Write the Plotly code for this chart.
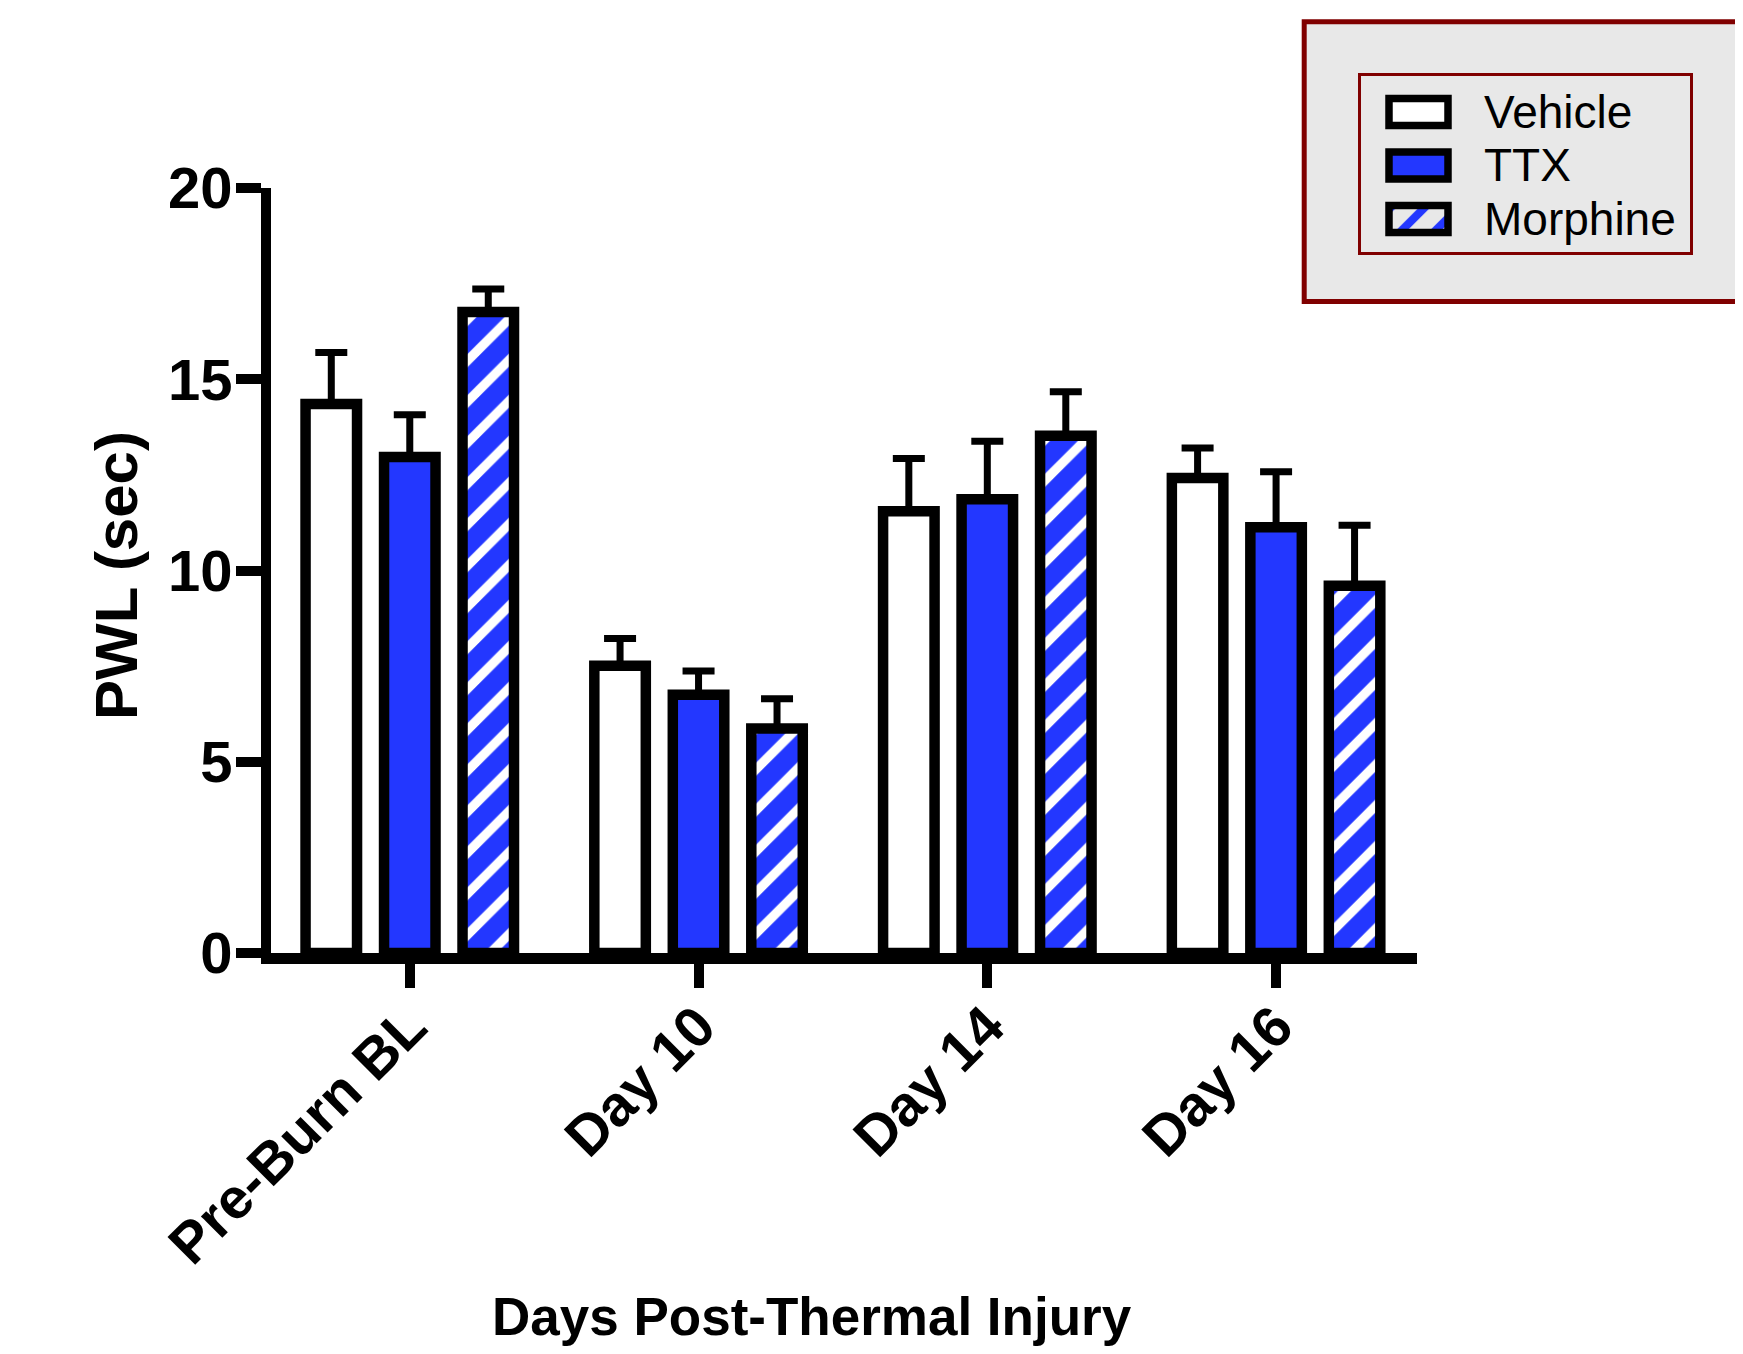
import plotly.graph_objects as go

# ---------------- data ----------------
categories = ["Pre-Burn BL", "Day 10", "Day 14", "Day 16"]
series_names = ["Vehicle", "TTX", "Morphine"]
vehicle_mean = [14.35, 7.51, 11.55, 12.42]
vehicle_sem = [1.35, 0.71, 1.38, 0.78]
ttx_mean = [12.97, 6.75, 11.86, 11.13]
ttx_sem = [1.10, 0.62, 1.52, 1.45]
morphine_mean = [16.76, 5.87, 13.52, 9.60]
morphine_sem = [0.60, 0.78, 1.15, 1.58]
y_ticks = [0, 5, 10, 15, 20]

# ---------------- style ----------------
W, H = 1743, 1354
OFF = 8  # page body margin offset
BLUE = "#2337FF"
DARKRED = "#800000"
FONT = "Liberation Sans, Arial, sans-serif"


def px(x):
    return (x - OFF) / W


def py(y):
    return 1 - (y - OFF) / H


fig = go.Figure()

means = [vehicle_mean, ttx_mean, morphine_mean]
sems = [vehicle_sem, ttx_sem, morphine_sem]
fills = ["white", BLUE, BLUE]
shapes_pat = ["", "", "/"]

for name, m, s, fc, shp in zip(series_names, means, sems, fills, shapes_pat):
    marker = dict(color=fc, line=dict(color="black", width=10.5))
    if shp:
        marker["pattern"] = dict(shape=shp, bgcolor=BLUE, fgcolor="white",
                                 size=29, solidity=0.32, fillmode="replace")
    fig.add_trace(go.Bar(
        name=name, x=categories, y=m, marker=marker,
        error_y=dict(type="data", array=s, arrayminus=[0] * len(s), symmetric=False,
                     color="black", thickness=7, width=16),
        showlegend=False, xaxis="x", yaxis="y",
    ))

# legend swatches drawn as bars on a small helper axis
fig.add_trace(go.Bar(
    x=[1, 1, 1], y=[0, 1, 2], base=0, orientation="h", width=0.505,
    marker=dict(color=fills, line=dict(color="black", width=7.5),
                pattern=dict(shape=shapes_pat, bgcolor=[BLUE, BLUE, BLUE],
                             fgcolor="white", size=24, solidity=0.34, fillmode="replace")),
    xaxis="x2", yaxis="y2", showlegend=False, hoverinfo="skip",
))

annotations = []
for i, name in enumerate(series_names):
    annotations.append(dict(
        text=name, x=px(1482), y=py(112 + 53.5 * i), xref="paper", yref="paper",
        xanchor="left", yanchor="middle", showarrow=False,
        font=dict(family=FONT, size=46, color="black"),
    ))
annotations.append(dict(
    text="PWL (sec)", x=px(116), y=py(576), xref="paper", yref="paper",
    textangle=-90, xanchor="center", yanchor="middle", showarrow=False,
    font=dict(family=FONT, size=60, color="black", weight="bold"),
))
annotations.append(dict(
    text="Days Post-Thermal Injury", x=px(812), y=py(1316), xref="paper", yref="paper",
    xanchor="center", yanchor="middle", showarrow=False,
    font=dict(family=FONT, size=53, color="black", weight="bold"),
))

shapes = [
    dict(type="rect", xref="paper", yref="paper", layer="below",
         x0=px(1304.2), x1=px(1738.2), y0=py(301.5), y1=py(21.8),
         line=dict(color=DARKRED, width=5), fillcolor="#E8E8E8"),
    dict(type="rect", xref="paper", yref="paper", layer="below",
         x0=px(1359.5), x1=px(1691.5), y0=py(253.5), y1=py(74.5),
         line=dict(color=DARKRED, width=3), fillcolor="#E8E8E8"),
]

fig.update_layout(
    width=W, height=H,
    margin=dict(l=0, r=0, t=0, b=0),
    paper_bgcolor="white", plot_bgcolor="rgba(0,0,0,0)",
    barmode="group", bargap=0.1846, bargroupgap=0.344,
    font=dict(family=FONT, color="black"),
    showlegend=False,
    annotations=annotations, shapes=shapes,
    xaxis=dict(
        domain=[px(271), px(1417)], range=[-0.4806, 3.488], anchor="y",
        showline=True, linewidth=11, linecolor="black",
        ticks="outside", ticklen=24, tickwidth=10, tickcolor="black",
        tickangle=-45, showgrid=False, zeroline=False, automargin=False,
        ticklabelstandoff=-18,
        tickfont=dict(family=FONT, size=57, color="black", weight="bold"),
    ),
    yaxis=dict(
        domain=[py(953), py(188)], range=[0, 20], anchor="x",
        tickvals=y_ticks, ticktext=[str(v) for v in y_ticks],
        showline=True, linewidth=10, linecolor="black",
        ticks="outside", ticklen=25, tickwidth=10, tickcolor="black",
        showgrid=False, zeroline=False, automargin=False,
        ticklabelstandoff=-8,
        tickfont=dict(family=FONT, size=58, color="black", weight="bold"),
    ),
    xaxis2=dict(domain=[px(1377.2), px(1459.8)], range=[-0.2, 1.2], anchor="y2",
                visible=False, fixedrange=True),
    yaxis2=dict(domain=[py(245.75), py(85.25)], range=[2.5, -0.5], anchor="x2",
                visible=False, fixedrange=True),
)

fig.write_html("out.html")
